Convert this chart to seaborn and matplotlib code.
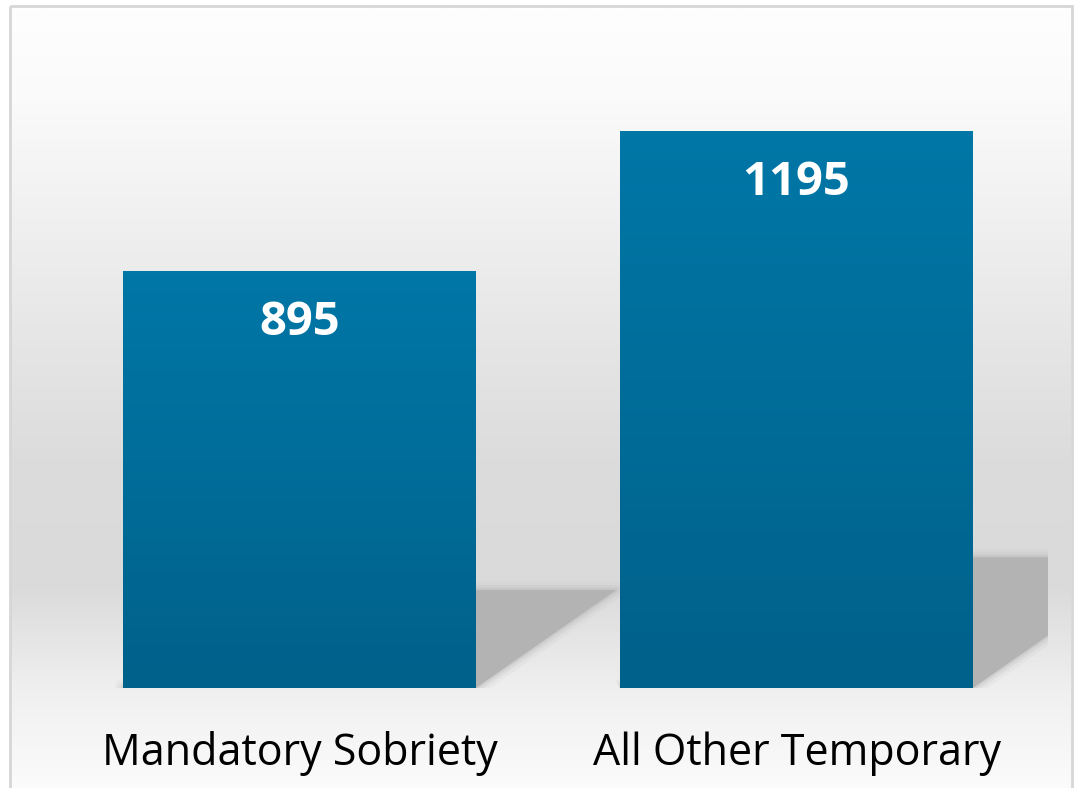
import numpy as np
import matplotlib
matplotlib.use('Agg')
import matplotlib.pyplot as plt
import seaborn as sns
from matplotlib.colors import LinearSegmentedColormap
from matplotlib.patches import Polygon, Rectangle

# Data
categories = ['Mandatory Sobriety', 'All Other Temporary']
counts = [895, 1195]

sns.set_style('white')
plt.rcParams['font.family'] = ['Open Sans', 'DejaVu Sans']

W, H = 1076, 788
fig = plt.figure(figsize=(W / 100, H / 100), dpi=100)
fig.patch.set_facecolor('white')

# background panel with vertical grey gradient and a thin border
bg = fig.add_axes([0, 0, 1, 1])
bg.set_xlim(0, W)
bg.set_ylim(H, 0)
bg.axis('off')
bg_cmap = LinearSegmentedColormap.from_list('bg', [
    (0.0, '#fefefe'), (0.12, '#fafafa'), (0.33, '#ececec'),
    (0.58, '#dcdcdc'), (0.74, '#dadada'), (0.88, '#f0f0f0'), (1.0, '#fbfbfb')])
grad = np.linspace(0, 1, 300).reshape(-1, 1)
bg.imshow(grad, cmap=bg_cmap, aspect='auto', extent=(11, 1071, H, 7), zorder=0)
bg.add_patch(Rectangle((10, 6), 1062, H, fill=False, edgecolor='#d6d6d6', lw=2, zorder=1))

# main axes
ax = fig.add_axes([51 / W, (H - 688) / H, (1048 - 51) / W, (688 - 36) / H])
ax.patch.set_alpha(0)
sns.barplot(x=categories, y=counts, ax=ax, width=0.71, color='#006e9c',
            saturation=1, zorder=3)
ax.set_xlim(-0.5, 1.506)
ax.set_ylim(0, 1400)

bar_cmap = LinearSegmentedColormap.from_list('bar', ['#00618a', '#0077a7'])
for p in ax.patches:
    x0, w, h = p.get_x(), p.get_width(), p.get_height()
    x1 = x0 + w
    # perspective shadow falling to the right
    dx = h * 0.000315
    sh = h * 0.235
    pts = [(x0, 0), (x1, 0), (x1 + dx, sh), (x0 + dx, sh)]
    for lw, a in [(12, 0.1), (7, 0.18), (3, 0.3)]:
        ax.add_patch(Polygon(pts, closed=True, facecolor='none', edgecolor='#b3b3b3',
                             lw=lw, alpha=a, joinstyle='round', zorder=1))
    ax.add_patch(Polygon(pts, closed=True, facecolor='#b3b3b3', edgecolor='none', zorder=2))
    # gradient fill of the bar
    im = ax.imshow(np.linspace(0, 1, 100).reshape(-1, 1), cmap=bar_cmap, aspect='auto',
                   extent=(x0, x1, 0, h), origin='lower', zorder=3)
    im.set_clip_path(p)
    p.set_facecolor('none')
    p.set_edgecolor('none')
    ax.annotate(f'{int(h)}', (x0 + w / 2, h), xytext=(0, -37), textcoords='offset points',
                ha='center', va='center', color='white', fontsize=34, fontweight='bold', zorder=5)

ax.set_xlim(-0.5, 1.506)
ax.set_ylim(0, 1400)
sns.despine(ax=ax, left=True, bottom=True)
ax.set_yticks([])
ax.set_xlabel('')
ax.set_ylabel('')
ax.tick_params(axis='x', length=0, pad=31, labelsize=31, labelcolor='black')

fig.savefig('out.png', dpi=100)
